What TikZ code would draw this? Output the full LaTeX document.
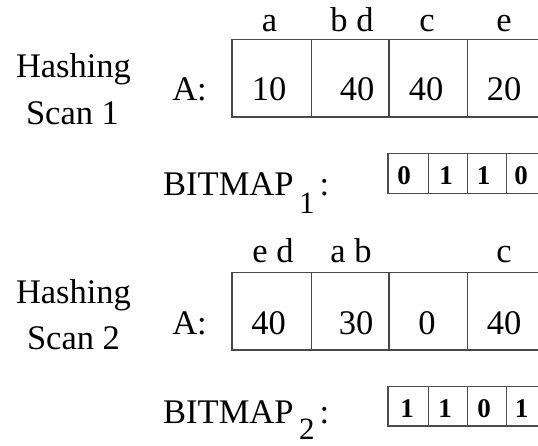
\documentclass[tikz,border=0pt]{standalone}
\usepackage{fontspec}
\setmainfont{Liberation Serif}
\begin{document}
\begin{tikzpicture}[x=1pt,y=-1pt,
  txt/.style={inner sep=0pt, anchor=base, font=\fontsize{34.5}{40}\selectfont},
  bitval/.style={inner sep=0pt, anchor=base, font=\fontsize{27}{30}\selectfont\bfseries},
  cellline/.style={draw=black!72, line width=1.7pt},
  bitline/.style={draw=black!70, line width=1.3pt}]
\useasboundingbox (0,0) rectangle (538,445);

% ---------- Hashing scan 1 ----------
\node[txt] (hash1) at (73.5,77) {Hashing};
\node[txt] (scan1) at (72.5,124) {Scan 1};
\node[txt] (arrA1) at (189.5,100) {A:};
% array cells (open to the right)
\draw[cellline] (538,39.5) -- (232,39.5) -- (232,117) -- (538,117);
\foreach \x in {311.5,389,467.5} \draw[cellline] (\x,39.5) -- (\x,117);
% keys hashed into each cell
\node[txt] (k1a) at (269.5,31) {a};
\node[txt] (k1b) at (352,31) {b d};
\node[txt] (k1c) at (427,31) {c};
\node[txt] (k1d) at (504,31) {e};
% cell values
\node[txt] (v1a) at (269,100) {10};
\node[txt] (v1b) at (357,100) {40};
\node[txt] (v1c) at (426,100) {40};
\node[txt] (v1d) at (504,100) {20};

% ---------- Bitmap 1 ----------
\node[txt, anchor=base west] (bmp1) at (163,195)
  {BITMAP\kern5.5pt\raisebox{-18pt}{\fontsize{31}{31}\selectfont 1}\kern5pt:};
\draw[bitline] (538,153.5) -- (388,153.5) -- (388,193.5) -- (538,193.5);
\foreach \x in {428.5,467.5,506.5} \draw[bitline] (\x,153.5) -- (\x,193.5);
\node[bitval] (b1a) at (404,184) {0};
\node[bitval] (b1b) at (446,184) {1};
\node[bitval] (b1c) at (483.5,184) {1};
\node[bitval] (b1d) at (521,184) {0};

% ---------- Hashing scan 2 ----------
\node[txt] (hash2) at (73.5,303) {Hashing};
\node[txt] (scan2) at (73.5,349.5) {Scan 2};
\node[txt] (arrA2) at (189.5,334) {A:};
\draw[cellline] (538,272.5) -- (232,272.5) -- (232,350) -- (538,350);
\foreach \x in {311.5,389,467.5} \draw[cellline] (\x,272.5) -- (\x,350);
\node[txt] (k2a) at (273,262.5) {e d};
\node[txt] (k2b) at (351,262.5) {a b};
\node[txt] (k2d) at (504,262.5) {c};
\node[txt] (v2a) at (268.5,334) {40};
\node[txt] (v2b) at (356,334) {30};
\node[txt] (v2c) at (427,334) {0};
\node[txt] (v2d) at (504,334) {40};

% ---------- Bitmap 2 ----------
\node[txt, anchor=base west] (bmp2) at (163,423)
  {BITMAP\kern5.5pt\raisebox{-16.5pt}{\fontsize{31}{31}\selectfont 2}\kern5pt:};
\draw[bitline] (538,386.5) -- (388,386.5) -- (388,426) -- (538,426);
\foreach \x in {428.5,467.5,506.5} \draw[bitline] (\x,386.5) -- (\x,426);
\node[bitval] (b2a) at (407,417) {1};
\node[bitval] (b2b) at (445,417) {1};
\node[bitval] (b2c) at (484,417) {0};
\node[bitval] (b2d) at (521.5,417) {1};
\end{tikzpicture}
\end{document}
